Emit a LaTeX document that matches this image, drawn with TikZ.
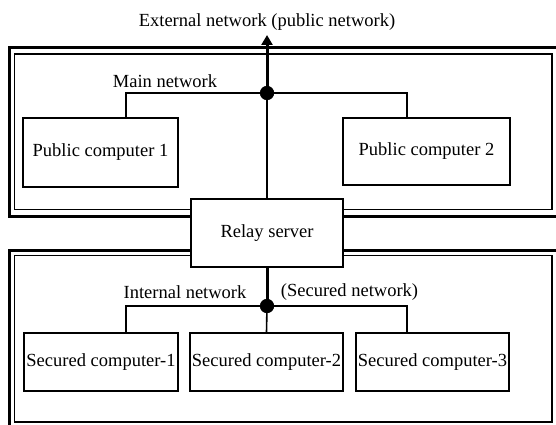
\documentclass[tikz,border=0pt]{standalone}
\usepackage{fontspec}
\setmainfont{Liberation Serif}
\usepackage{tikz}
\usetikzlibrary{positioning, calc, arrows.meta}

\begin{document}
\begin{tikzpicture}[x=1pt, y=-1pt, line width=1.6pt,
        font=\fontsize{18.5}{22}\selectfont,
        pcbox/.style={draw, fill=white, inner sep=0pt, minimum width=154pt, minimum height=68pt},
        hub/.style={circle, fill=black, inner sep=0pt, minimum size=14pt},
        frameout/.style={line width=3pt},
        framein/.style={line width=1.6pt},
        trunk/.style={line width=3pt}]
            \useasboundingbox (0,0) rectangle (556,425);

            \draw[frameout] (9.5,47.5) rectangle (562,216.5);
            \draw[framein] (14.5,54) rectangle (552,209.5);
            \draw[frameout] (9.5,250) rectangle (562,432);
            \draw[framein] (14.5,255.5) rectangle (552,422);

            \node (ext) at (267,22) {External network (public network)};
            \coordinate (exttip) at (267,35);
            \node[hub] (mainhub) at (267,93) {};
            \node (mainlbl) at (165,81) {Main network};
            \node[pcbox, minimum width=155pt, minimum height=69pt] (pub1) at (100.5,152.5) {Public computer 1};
            \node[pcbox, minimum width=167pt, minimum height=67pt] (pub2) at (426.5,151.5) {Public computer 2};
            \node[pcbox, minimum width=152pt, minimum height=68pt] (relay) at (267,233) {Relay server};
            \node[hub] (inhub) at (267,306) {};
            \node (inlbl) at (185,292) {Internal network};
            \node (seclbl) at (349.5,292) {(Secured network)};
            \node[pcbox, minimum height=58pt] (sec1) at (101,362) {Secured computer-1};
            \node[pcbox, minimum width=153pt, minimum height=58pt] (sec2) at (266.5,362) {Secured computer-2};
            \node[pcbox, minimum width=153pt, minimum height=58pt] (sec3) at (432.5,362) {Secured computer-3};

            \draw[trunk, -{Triangle[length=10pt, width=11pt]}] (mainhub.center) -- (exttip);
            \draw (mainhub.center) -| ([xshift=25.5pt]pub1.north);
            \draw (mainhub.center) -| ([xshift=-19.5pt]pub2.north);
            \draw (mainhub.center) -- (relay.north);
            \draw[trunk] (relay.south) -- (inhub.center);
            \draw (inhub.center) -| ([xshift=25pt]sec1.north);
            \draw (inhub.center) -| ([xshift=-25.5pt]sec3.north);
            \draw (inhub.center) -- (sec2.north);
            \node[hub] at (mainhub) {};
            \node[hub] at (inhub) {};
          \end{tikzpicture}
\end{document}
